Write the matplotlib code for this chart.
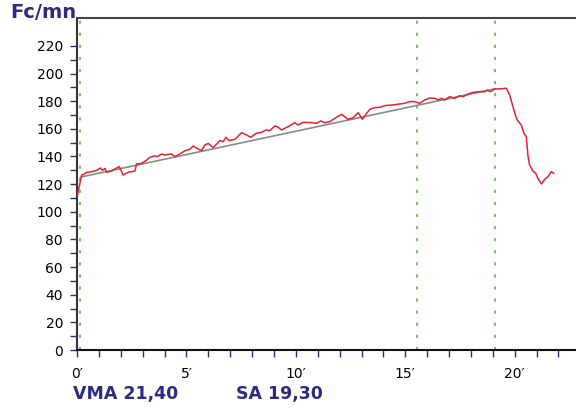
import numpy as np
import matplotlib
matplotlib.use('Agg')
import matplotlib.pyplot as plt

# heart rate recording (minutes, beats/min)
t_hr = [0.0, 0.21, 0.3, 0.44, 0.67, 0.9, 1.08, 1.16, 1.28, 1.35, 1.58, 1.81, 1.93,
        2.11, 2.34, 2.5, 2.65, 2.72, 2.95, 3.15, 3.33, 3.56, 3.67, 3.87, 4.02, 4.17,
        4.32, 4.47, 4.7, 4.93, 5.16, 5.31, 5.47, 5.69, 5.84, 6.0, 6.22, 6.53, 6.68,
        6.8, 6.95, 7.21, 7.52, 7.75, 7.93, 8.2, 8.43, 8.63, 8.81, 9.04, 9.15, 9.35,
        9.65, 9.95, 10.1, 10.33, 10.64, 10.94, 11.14, 11.32, 11.55, 11.78, 12.09,
        12.39, 12.62, 12.85, 13.04, 13.23, 13.38, 13.6, 13.84, 14.06, 14.44, 14.75,
        14.98, 15.2, 15.43, 15.66, 15.89, 16.12, 16.35, 16.5, 16.65, 16.8, 17.03,
        17.26, 17.49, 17.64, 17.87, 18.1, 18.4, 18.63, 18.74, 18.89, 19.09, 19.32,
        19.62, 19.77, 19.92, 20.08, 20.15, 20.3, 20.42, 20.53, 20.6, 20.68, 20.83,
        20.96, 21.06, 21.22, 21.37, 21.52, 21.67, 21.78]
hr = [110.5, 126.6, 127, 128.5, 129, 130, 131.7, 130, 131.4, 128.6, 129.5, 131.7, 132.7,
      126.6, 128.6, 129, 129.5, 134.6, 135, 137, 139.4, 140.4, 139.9, 141.8, 141, 141.6,
      141.8, 139.9, 141.8, 144.2, 145.2, 147.6, 146, 144.2, 148.3, 149.5, 146.4, 151.5, 150.7,
      153.9, 151.5, 152.4, 157.2, 155.6, 153.9, 156.8, 157.5, 159.2, 158.7, 162.1, 161.6, 159.2,
      161.6, 164.5, 162.8, 164.7, 164.6, 164, 165.7, 164.5, 165.2, 167.6, 170.5,
      166.9, 168.1, 171.7, 166.9, 171.2, 174.1, 175.3, 175.6, 176.8, 177.3, 178,
      178.5, 179.7, 179.7, 178.5, 180.9, 182.3, 182.1, 180.9, 182.1, 180.9, 183.3,
      182.1, 184, 183.3, 185.2, 186.4, 186.9, 186.9, 188.1, 186.9, 188.9, 188.9,
      189.4, 184.5, 176, 167.6, 165.7, 162.8, 156.8, 154.4, 141.1, 133.9, 129.5,
      127.9, 124.2, 120.1, 123.5, 125.4, 129, 127.9]

# trend line endpoints
t_trend = [0.2, 19.1]
hr_trend = [125.2, 189.0]

# markers (minutes)
t_marks = [0.14, 15.53, 19.1]

navy = '#2d2a80'

fig = plt.figure(figsize=(5.76, 4.08), dpi=100)
ax = fig.add_axes([77 / 576, 58 / 408, 1 - 77 / 576, (350 - 18) / 408])

for tm in t_marks:
    ax.axvline(tm, color='#74c063', lw=1.5, ls=(0, (1.5, 4.3)), zorder=1)
ax.plot(t_trend, hr_trend, color='#8a8a8a', lw=1.2, zorder=2)
ax.plot(t_hr, hr, color='#e62230', lw=1.1, zorder=3)

ax.set_xlim(0, 22.8)
ax.set_ylim(0, 240.2)

ax.set_xticks(np.arange(0, 23, 1))
ax.set_xticklabels([f"{i}\u2032" if i % 5 == 0 else '' for i in range(23)])
ax.set_yticks(np.arange(0, 221, 10))
ax.set_yticklabels([str(v) if v % 20 == 0 else '' for v in range(0, 221, 10)])
ax.tick_params(axis='both', direction='out', length=5, width=1.0, color=navy,
               labelsize=10, labelcolor='black')
ax.tick_params(axis='x', pad=7)
ax.tick_params(axis='y', pad=5)

ax.spines['right'].set_visible(False)
ax.spines['top'].set_color('#444444')
ax.spines['left'].set_color('#333333')
ax.spines['bottom'].set_color('#111111')
for s in ['top', 'left', 'bottom']:
    ax.spines[s].set_linewidth(1.5)

fig.text(10 / 576, 1 - 13 / 408, 'Fc/mn', color=navy, fontsize=14,
         fontweight='bold', ha='left', va='center')
fig.text(73 / 576, 1 - 394 / 408, 'VMA 21,40', color=navy, fontsize=12.5,
         fontweight='bold', ha='left', va='center')
fig.text(236 / 576, 1 - 394 / 408, 'SA 19,30', color=navy, fontsize=12.5,
         fontweight='bold', ha='left', va='center')

fig.savefig('out.png', dpi=100)
